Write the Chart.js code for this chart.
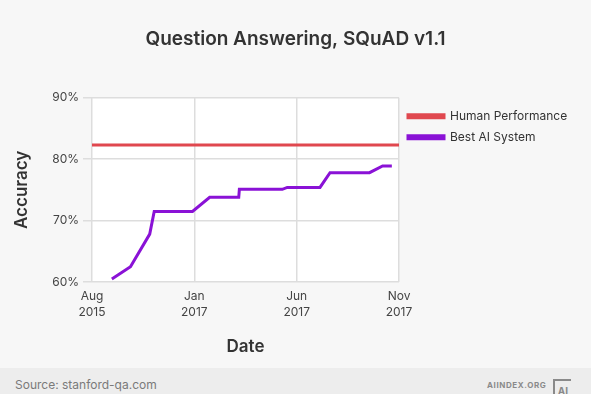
<!DOCTYPE html>
<html>
<head>
<meta charset="utf-8">
<script src="https://cdn.jsdelivr.net/npm/chart.js@4.4.1/dist/chart.umd.min.js"></script>
<style>
  html, body { margin: 0; padding: 0; background: #f7f7f7; }
  body { width: 591px; height: 394px; position: relative; overflow: hidden; font-family: Inter, "Noto Sans", sans-serif; }
  #wrap { position: absolute; left: 0; top: 0; width: 591px; height: 368px; }
  #footer { position: absolute; left: 0; top: 368px; width: 591px; height: 26px; background: #ededed; }
  #source { position: absolute; left: 15px; top: 9px; font-size: 12px; color: #7a7a7a; }
  #org { position: absolute; left: 487px; top: 12px; font-size: 8px; font-weight: 700; letter-spacing: 0.6px; color: #8a8a8a; }
  #logo { position: absolute; left: 553px; top: 11px; width: 18px; height: 18px; border-left: 2px solid #8a8a8a; border-top: 2px solid #8a8a8a; font-size: 10px; font-weight: 700; color: #8a8a8a; line-height: 12px; text-align: center; box-sizing: border-box; padding-top: 4px; }
</style>
</head>
<body>
<div id="wrap"><canvas id="c" width="591" height="368"></canvas></div>
<div id="footer">
  <div id="source">Source: stanford-qa.com</div>
  <div id="org">AIINDEX.ORG</div>
  <div id="logo">AI</div>
</div>
<script>
// Months since the first tick (tick positions are evenly spaced on the original chart)
const tickPositions = [0, 5, 10, 15];
const tickMonths = ['Aug', 'Jan', 'Jun', 'Nov'];
const tickYears = ['2015', '2017', '2017', '2017'];

const humanX = [0, 15];
const humanY = [82.3, 82.3];

const aiX = [0.97, 1.88, 2.82, 3.04, 4.91, 5.75, 7.17, 7.2, 9.3, 9.54, 11.14, 11.63, 13.56, 14.2, 14.65];
const aiY = [60.5, 62.5, 67.8, 71.5, 71.5, 73.8, 73.8, 75.1, 75.1, 75.4, 75.4, 77.8, 77.8, 78.9, 78.9];

const FONT = 'Inter, "Noto Sans", sans-serif';

const whiteArea = {
  id: 'whiteArea',
  beforeDraw(chart) {
    const { ctx, chartArea: a } = chart;
    ctx.save();
    ctx.fillStyle = '#ffffff';
    ctx.fillRect(a.left, a.top, a.right - a.left, a.bottom - a.top);
    ctx.restore();
  }
};

// Give the right-hand legend a fixed width so the plot area ends where the reference's does
const legendWidth = {
  id: 'legendWidth',
  afterInit(chart) {
    const lg = chart.legend;
    if (!lg) return;
    const orig = lg.fit.bind(lg);
    lg.fit = function () { orig(); this.width = 192; };
  }
};

new Chart(document.getElementById('c'), {
  type: 'line',
  data: {
    datasets: [
      {
        label: 'Human Performance',
        data: humanX.map((x, i) => ({ x, y: humanY[i] })),
        borderColor: '#e0484f',
        backgroundColor: '#e0484f',
        borderWidth: 3,
        pointRadius: 0,
        tension: 0
      },
      {
        label: 'Best AI System',
        data: aiX.map((x, i) => ({ x, y: aiY[i] })),
        borderColor: '#8a12d6',
        backgroundColor: '#8a12d6',
        borderWidth: 3,
        pointRadius: 0,
        tension: 0
      }
    ]
  },
  options: {
    responsive: false,
    animation: false,
    layout: { padding: { left: 0, right: 0, top: 0, bottom: 0 } },
    plugins: {
      title: {
        display: true,
        text: 'Question Answering, SQuAD v1.1',
        color: '#333333',
        font: { family: FONT, size: 19, weight: '600' },
        padding: { top: 28, bottom: 47 }
      },
      legend: {
        position: 'right',
        align: 'start',
        fullSize: false,
        title: { display: true, text: '', font: { size: 2 }, padding: { top: 1, bottom: 0 } },
        labels: {
          boxWidth: 36,
          boxHeight: 3,
          padding: 9,
          color: '#333333',
          font: { family: FONT, size: 12 }
        }
      },
      tooltip: { enabled: false }
    },
    scales: {
      x: {
        type: 'linear',
        min: 0,
        max: 15,
        afterBuildTicks(scale) { scale.ticks = tickPositions.map(v => ({ value: v })); },
        afterFit(scale) { scale.height = 86; },
        ticks: {
          padding: 6,
          color: '#444444',
          maxRotation: 0,
          font: { family: FONT, size: 12, lineHeight: 1.38 },
          callback: (v) => {
            const i = tickPositions.indexOf(v);
            return i >= 0 ? [tickMonths[i], tickYears[i]] : '';
          }
        },
        grid: { color: '#dddddd', lineWidth: 1.5, drawTicks: false },
        border: { display: false },
        title: {
          display: true,
          text: 'Date',
          color: '#333333',
          font: { family: FONT, size: 17, weight: '600' },
          padding: { top: 0, bottom: 11 }
        }
      },
      y: {
        min: 60,
        max: 90,
        ticks: {
          stepSize: 10,
          padding: 4,
          color: '#444444',
          font: { family: FONT, size: 12 },
          callback: (v) => v + '%'
        },
        afterFit(scale) { scale.width = 92; },
        grid: { color: '#dddddd', lineWidth: 1.5, tickLength: 9 },
        border: { display: false },
        title: {
          display: true,
          text: 'Accuracy',
          color: '#333333',
          font: { family: FONT, size: 17, weight: '600' },
          padding: { top: 12, bottom: 0 }
        }
      }
    }
  },
  plugins: [whiteArea, legendWidth]
});
</script>
</body>
</html>
